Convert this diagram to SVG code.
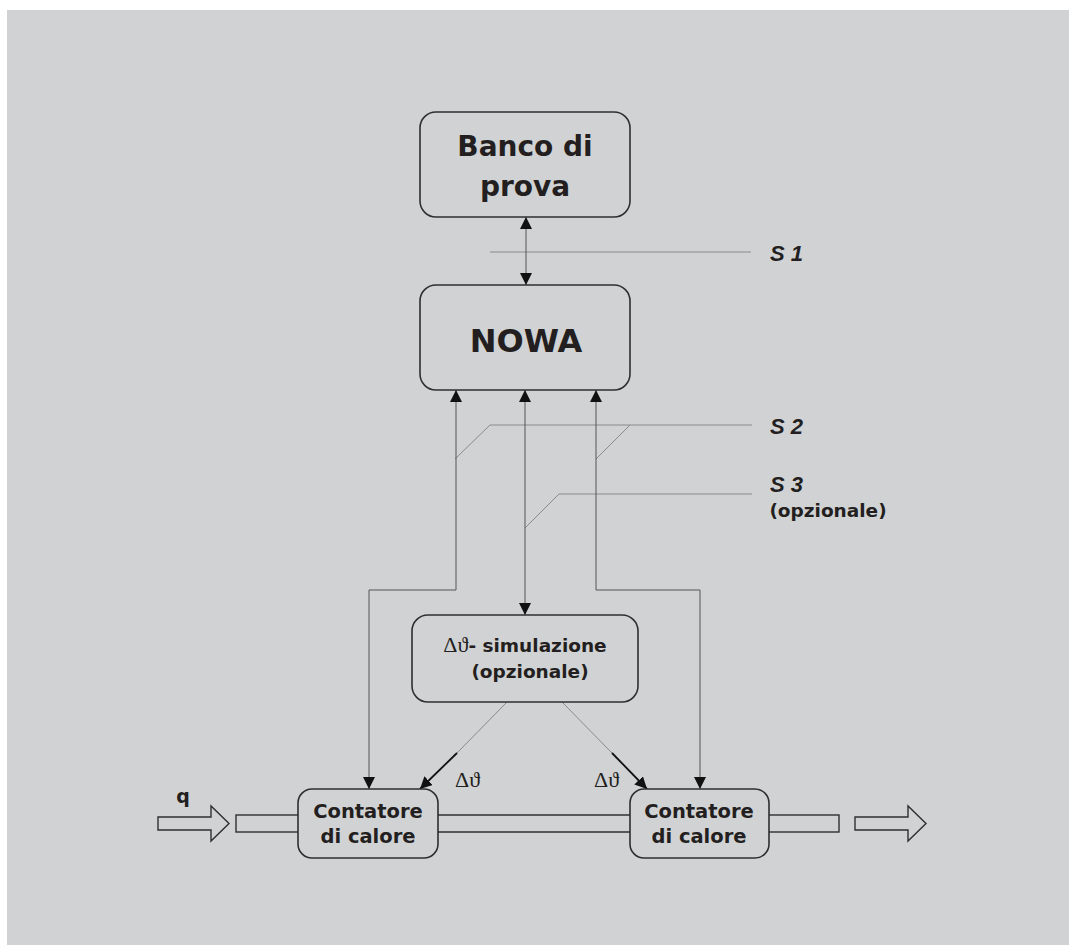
<svg xmlns="http://www.w3.org/2000/svg" width="1069" height="945" viewBox="0 0 1069 945">
  <style>
    .box { fill: #d1d2d4; stroke: #2f2f2f; stroke-width: 1.6; }
    .pipe { fill: #d1d2d4; stroke: #2f2f2f; stroke-width: 1.4; }
    .link { fill: none; stroke: #555; stroke-width: 1; }
    .sect { fill: none; stroke: #8a8a8a; stroke-width: 1; }
    .lbl { font-family: "DejaVu Sans", "Liberation Sans", sans-serif; font-weight: 700; fill: #231f20; text-anchor: middle; }
    .sec { font-family: "Liberation Sans", Arial, sans-serif; font-weight: 700; font-style: italic; fill: #231f20; font-size: 22px; }
    .greek { font-family: "Liberation Serif", "DejaVu Serif", serif; font-weight: 400; }
  </style>
  <defs>
    <marker id="ah" viewBox="0 0 12 12" refX="12" refY="6" markerWidth="12" markerHeight="12" markerUnits="userSpaceOnUse" orient="auto-start-reverse">
      <path d="M0,0 L12,6 L0,12 Z" fill="#111"/>
    </marker>
  </defs>

  <!-- backdrop -->
  <rect x="7" y="10" width="1062" height="935" fill="#d1d2d4"/>

  <!-- section lines and labels -->
  <g id="sections">
    <line class="sect" x1="490" y1="252" x2="751" y2="252"/>
    <polyline class="sect" points="455,459 490,425 752,425"/>
    <polyline class="sect" points="596,459 630,425"/>
    <polyline class="sect" points="525,528 559,494 752,494"/>
    <text class="sec" x="770" y="261">S 1</text>
    <text class="sec" x="770" y="434">S 2</text>
    <text class="sec" x="770" y="492">S 3</text>
    <text class="lbl" x="828" y="517" font-size="18.5">(opzionale)</text>
  </g>

  <!-- connectors -->
  <g id="connectors">
    <line class="link" x1="526" y1="217" x2="526" y2="285" marker-start="url(#ah)" marker-end="url(#ah)"/>
    <polyline class="link" points="369,789 369,590 456,590 456,390" marker-start="url(#ah)" marker-end="url(#ah)"/>
    <line class="link" x1="525" y1="390" x2="525" y2="615" marker-start="url(#ah)" marker-end="url(#ah)"/>
    <polyline class="link" points="700,789 700,590 596,590 596,390" marker-start="url(#ah)" marker-end="url(#ah)"/>
    <line x1="507" y1="702" x2="457" y2="753" stroke="#8a8a8a" stroke-width="1"/>
    <line x1="457" y1="753" x2="420" y2="789" stroke="#111" stroke-width="1.8" marker-end="url(#ah)"/>
    <line x1="562" y1="702" x2="612" y2="753" stroke="#8a8a8a" stroke-width="1"/>
    <line x1="612" y1="753" x2="647" y2="789" stroke="#111" stroke-width="1.8" marker-end="url(#ah)"/>
  </g>

  <!-- flow line with the two meters -->
  <g id="pipe">
    <rect class="pipe" x="236" y="815" width="70" height="17"/>
    <line class="pipe" x1="430" y1="815" x2="640" y2="815"/>
    <line class="pipe" x1="430" y1="832" x2="640" y2="832"/>
    <rect class="pipe" x="760" y="815" width="79" height="17"/>
    <path class="pipe" d="M158,817 H211 V806 L229,823.5 L211,841 V830 H158 Z"/>
    <path class="pipe" d="M855,817 H908 V806 L926,823.5 L908,841 V830 H855 Z"/>
    <text class="lbl" x="183" y="803" font-size="19">q</text>
  </g>

  <g id="banco">
    <rect class="box" x="420" y="112" width="210" height="105" rx="16"/>
    <text class="lbl" x="525" y="156" font-size="28">Banco di</text>
    <text class="lbl" x="525" y="196" font-size="28">prova</text>
  </g>

  <g id="nowa">
    <rect class="box" x="420" y="285" width="210" height="105" rx="16"/>
    <text class="lbl" x="526" y="352" font-size="32">NOWA</text>
  </g>

  <g id="simulazione">
    <rect class="box" x="412" y="615" width="226" height="87" rx="16"/>
    <text class="lbl" x="525" y="652" font-size="18.5"><tspan class="greek" font-size="22">Δϑ</tspan>- simulazione</text>
    <text class="lbl" x="530" y="678" font-size="18.5">(opzionale)</text>
  </g>

  <g id="contatore1">
    <rect class="box" x="298" y="789" width="140" height="69" rx="14"/>
    <text class="lbl" x="368" y="818" font-size="19.5">Contatore</text>
    <text class="lbl" x="368" y="843" font-size="19.5">di calore</text>
    <text class="greek" x="455" y="787" font-size="22" fill="#231f20">Δϑ</text>
  </g>

  <g id="contatore2">
    <rect class="box" x="630" y="789" width="139" height="69" rx="14"/>
    <text class="lbl" x="699" y="818" font-size="19.5">Contatore</text>
    <text class="lbl" x="699" y="843" font-size="19.5">di calore</text>
    <text class="greek" x="594" y="787" font-size="22" fill="#231f20">Δϑ</text>
  </g>
</svg>
